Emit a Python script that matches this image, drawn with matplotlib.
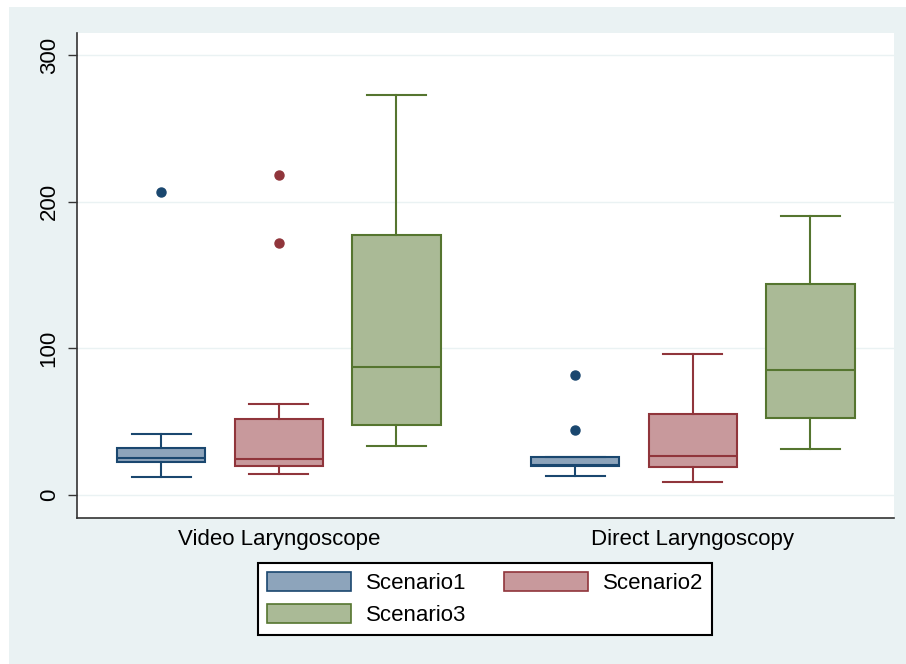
import matplotlib
matplotlib.use("Agg")
import matplotlib.pyplot as plt
from matplotlib.patches import Patch, Rectangle

plt.rcParams["font.family"] = ["Liberation Sans", "DejaVu Sans"]

groups = ["Video Laryngoscope", "Direct Laryngoscopy"]
scenarios = ["Scenario1", "Scenario2", "Scenario3"]

# five-number summaries: (low whisker, q1, median, q3, high whisker)
video_stats = [(12.5, 22.7, 25.0, 32.2, 41.7),
               (14.5, 20.0, 24.5, 51.8, 61.8),
               (33.2, 47.7, 87.0, 177.0, 272.7)]
direct_stats = [(12.7, 20.0, 20.3, 25.7, 25.7),
                (8.9, 19.1, 26.4, 55.2, 96.3),
                (31.4, 52.5, 85.0, 143.6, 190.0)]
video_outliers = [[206.3], [218.4, 171.8], []]
direct_outliers = [[81.8, 44.5], [], []]

edge_colors = ["#1A476F", "#90353B", "#55752F"]
fill_colors = ["#8DA4BB", "#C8999C", "#AABA96"]
bg = "#EAF2F3"

fig = plt.figure(figsize=(9.06, 6.64), dpi=100, facecolor="white")
fig.patches.append(Rectangle((9 / 906, 0), 1, 1 - 7 / 664, transform=fig.transFigure,
                             facecolor=bg, edgecolor="none", zorder=-10))
ax = fig.add_axes([77 / 906, 1 - 518 / 664, (894 - 77) / 906, (518 - 33) / 664])
ax.set_facecolor("white")

offsets = [0.0, 3.52]
for g, (stats, outs) in enumerate([(video_stats, video_outliers),
                                   (direct_stats, direct_outliers)]):
    for i, (s, o) in enumerate(zip(stats, outs)):
        d = dict(whislo=s[0], q1=s[1], med=s[2], q3=s[3], whishi=s[4], fliers=o)
        ec = edge_colors[i]
        ax.bxp([d], positions=[offsets[g] + i], widths=0.75, patch_artist=True,
               showfliers=True,
               boxprops=dict(facecolor=fill_colors[i], edgecolor=ec, linewidth=1.5),
               medianprops=dict(color=ec, linewidth=1.5),
               whiskerprops=dict(color=ec, linewidth=1.5),
               capprops=dict(color=ec, linewidth=1.5),
               capwidths=0.5,
               flierprops=dict(marker="o", markerfacecolor=ec, markeredgecolor=ec,
                               markersize=6.5))

ax.set_xlim(-0.715, 6.23)
ax.set_ylim(-15.7, 315)
ax.set_yticks([0, 100, 200, 300])
ax.set_yticklabels(["0", "100", "200", "300"], rotation=90, va="center", fontsize=16)
ax.set_xticks([offsets[0] + 1, offsets[1] + 1])
ax.set_xticklabels(groups, fontsize=16)
ax.tick_params(axis="x", length=0, pad=8)
ax.tick_params(axis="y", length=6.5, width=1, pad=6, color="#333333")
ax.grid(axis="y", color=bg, linewidth=1)
ax.set_axisbelow(True)
for side in ["top", "right"]:
    ax.spines[side].set_visible(False)
for side in ["left", "bottom"]:
    ax.spines[side].set_color("#333333")
    ax.spines[side].set_linewidth(1.2)

# legend fills by column, so order handles to give rows S1 S2 / S3
order = [0, 2, 1]
handles = [Patch(facecolor=fill_colors[k], edgecolor=edge_colors[k], linewidth=1.2)
           for k in order]
labels = [scenarios[k] for k in order]
leg = fig.legend(handles, labels, loc="center", bbox_to_anchor=(485 / 906, 1 - 599 / 664),
                 ncol=2, fontsize=16, frameon=True, fancybox=False, framealpha=1,
                 handlelength=3.8, handleheight=0.95, handletextpad=0.65,
                 columnspacing=1.7, labelspacing=0.47, borderpad=0.4)
leg.get_frame().set_edgecolor("black")
leg.get_frame().set_linewidth(1.5)

fig.savefig("out.png", dpi=100, facecolor=fig.get_facecolor())
